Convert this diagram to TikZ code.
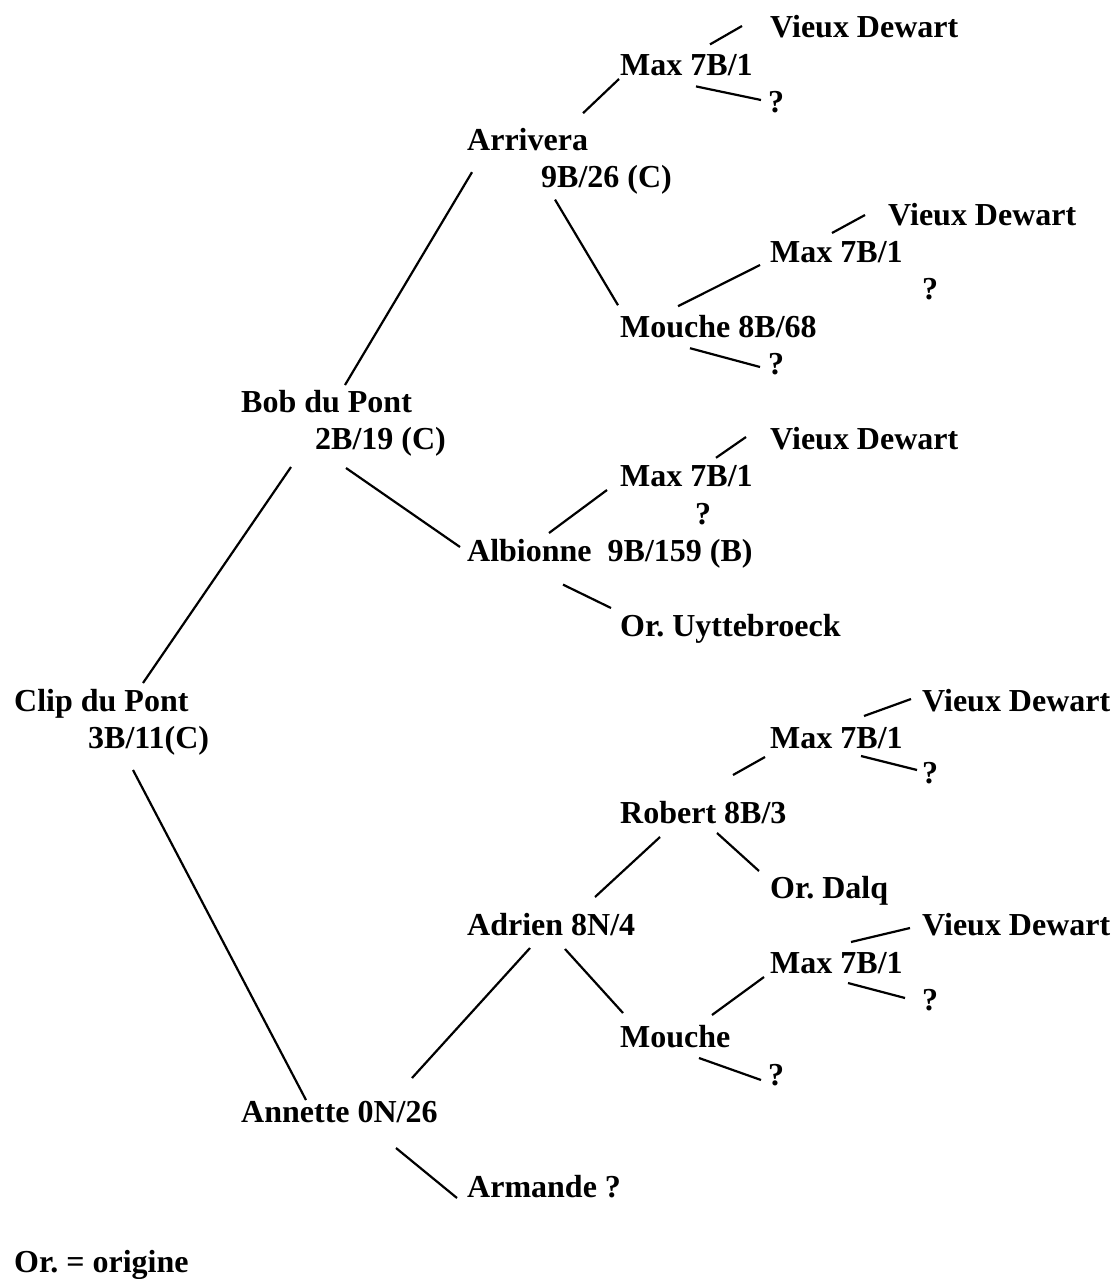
\documentclass[tikz,border=0pt]{standalone}
\usepackage{fontspec}
\setmainfont{Liberation Serif}
\frenchspacing
\begin{document}
\begin{tikzpicture}[x=1pt,y=-1pt,
  lbl/.style={anchor=base west, inner sep=0pt, font=\fontsize{32}{38}\selectfont\bfseries},
  con/.style={line width=2.2pt}]
\useasboundingbox[fill=white] (0,0) rectangle (1114,1279);
% labels
\node[lbl] (vd1)  at (770,38)     {Vieux Dewart};
\node[lbl] (max1) at (620,75.4)   {Max 7B/1};
\node[lbl] (q1)   at (768,112.8)  {?};
\node[lbl] (arrA) at (467,150.2)  {Arrivera};
\node[lbl] (arrB) at (541,187.6)  {9B/26 (C)};
\node[lbl] (vd2)  at (888,225)    {Vieux Dewart};
\node[lbl] (max2) at (770,262.4)  {Max 7B/1};
\node[lbl] (q2)   at (922,299.8)  {?};
\node[lbl] (mou1) at (620,337.2)  {Mouche 8B/68};
\node[lbl] (q3)   at (768,374.6)  {?};
\node[lbl] (bobA) at (241,412)    {Bob du Pont};
\node[lbl] (bobB) at (315,449.4)  {2B/19 (C)};
\node[lbl] (vd3)  at (770,449.4)  {Vieux Dewart};
\node[lbl] (max3) at (620,486.8)  {Max 7B/1};
\node[lbl] (q4)   at (695,524.2)  {?};
\node[lbl] (alb)  at (467,561.6)  {Albionne\hspace{0.5em}9B/159 (B)};
\node[lbl] (oru)  at (620,636.4)  {Or. Uyttebroeck};
\node[lbl] (clipA) at (14,711.2)  {Clip du Pont};
\node[lbl] (clipB) at (88,748.6)  {3B/11(C)};
\node[lbl] (vd4)  at (922,711.2)  {Vieux Dewart};
\node[lbl] (max4) at (770,748.6)  {Max 7B/1};
\node[lbl] (q5)   at (922,783)    {?};
\node[lbl] (rob)  at (620,823.4)  {Robert 8B/3};
\node[lbl] (ord)  at (770,898.2)  {Or. Dalq};
\node[lbl] (adr)  at (467,935.6)  {Adrien 8N/4};
\node[lbl] (vd5)  at (922,935.6)  {Vieux Dewart};
\node[lbl] (max5) at (770,973)    {Max 7B/1};
\node[lbl] (q6)   at (922,1010.4) {?};
\node[lbl] (mou2) at (620,1047.8) {Mouche};
\node[lbl] (q7)   at (768,1085.2) {?};
\node[lbl] (ann)  at (241,1122.6) {Annette 0N/26};
\node[lbl] (arm)  at (467,1197.4) {Armande ?};
\node[lbl] (leg)  at (14,1272.2)  {Or. = origine};
% connectors
\draw[con] ([shift={(90,-31)}]max1.base west) -- ([shift={(-28,-12)}]vd1.base west);
\draw[con] ([shift={(76,11)}]max1.base west) -- ([shift={(-7,-12.8)}]q1.base west);
\draw[con] ([shift={(116,-37)}]arrA.base west) -- ([shift={(-1,3.6)}]max1.base west);
\draw[con] ([shift={(14,12)}]arrB.base west) -- ([shift={(-2,-32)}]mou1.base west);
\draw[con] ([shift={(58,-31)}]mou1.base west) -- ([shift={(-10,2.6)}]max2.base west);
\draw[con] ([shift={(62,-29.4)}]max2.base west) -- ([shift={(-23,-10)}]vd2.base west);
\draw[con] ([shift={(70,11)}]mou1.base west) -- ([shift={(-8,-7.6)}]q3.base west);
\draw[con] ([shift={(104,-27)}]bobA.base west) -- ([shift={(5,22)}]arrA.base west);
\draw[con] ([shift={(31,18.6)}]bobB.base west) -- ([shift={(-7,-14.6)}]alb.base west);
\draw[con] ([shift={(82,-28.6)}]alb.base west) -- ([shift={(-13,3.2)}]max3.base west);
\draw[con] ([shift={(96,-29)}]max3.base west) -- ([shift={(-24,-12.4)}]vd3.base west);
\draw[con] ([shift={(96,23)}]alb.base west) -- ([shift={(-9,-28.4)}]oru.base west);
\draw[con] ([shift={(129,-28.2)}]clipA.base west) -- ([shift={(-24,17.6)}]bobB.base west);
\draw[con] ([shift={(45,21.4)}]clipB.base west) -- ([shift={(65,-22.6)}]ann.base west);
\draw[con] ([shift={(94,-32.6)}]max4.base west) -- ([shift={(-11,-12.2)}]vd4.base west);
\draw[con] ([shift={(91,7.4)}]max4.base west) -- ([shift={(-5,-13)}]q5.base west);
\draw[con] ([shift={(113,-48.4)}]rob.base west) -- ([shift={(-5,8.4)}]max4.base west);
\draw[con] ([shift={(40,13.6)}]rob.base west) -- ([shift={(128,-38.6)}]adr.base west);
\draw[con] ([shift={(97,9.6)}]rob.base west) -- ([shift={(-11,-27.2)}]ord.base west);
\draw[con] ([shift={(63,12.4)}]adr.base west) -- ([shift={(171,-44.6)}]ann.base west);
\draw[con] ([shift={(98,13.4)}]adr.base west) -- ([shift={(3,-34.8)}]mou2.base west);
\draw[con] ([shift={(92,-32.8)}]mou2.base west) -- ([shift={(-6,4)}]max5.base west);
\draw[con] ([shift={(81,-31)}]max5.base west) -- ([shift={(-12,-7.6)}]vd5.base west);
\draw[con] ([shift={(78,10)}]max5.base west) -- ([shift={(-17,-12.4)}]q6.base west);
\draw[con] ([shift={(79,10.2)}]mou2.base west) -- ([shift={(-7,-5.2)}]q7.base west);
\draw[con] ([shift={(155,25.4)}]ann.base west) -- ([shift={(-10,0.6)}]arm.base west);
\end{tikzpicture}
\end{document}
